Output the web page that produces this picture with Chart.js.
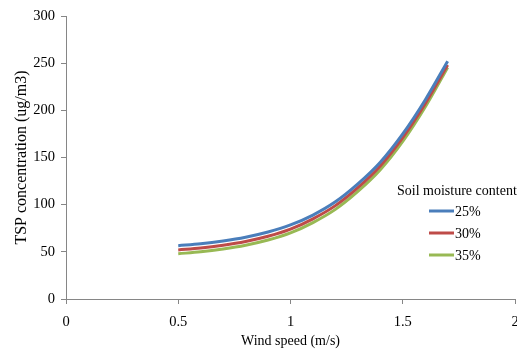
<!DOCTYPE html>
<html>
<head>
<meta charset="utf-8">
<script src="https://cdn.jsdelivr.net/npm/chart.js@4/dist/chart.umd.min.js"></script>
<style>
html,body{margin:0;padding:0;background:#fff;}
#wrap{width:517px;height:350px;position:relative;}
</style>
</head>
<body>
<div id="wrap"><canvas id="c" width="517" height="350"></canvas></div>
<script>
const windSpeed = [0.5, 0.6, 0.7, 0.8, 0.9, 1.0, 1.1, 1.2, 1.3, 1.4, 1.5, 1.6, 1.7];
const tsp25 = [56.5, 58.5, 61.5, 65.5, 71, 78.5, 89, 103, 122, 145, 175, 211, 252];
const tsp30 = [52, 54, 57, 61, 66.5, 74, 85, 99, 118, 141, 171, 207, 248];
const tsp35 = [48, 50, 53, 57, 62.5, 70, 81, 95, 114, 137, 167, 203.5, 245.5];
const seriesLabels = ['25%', '30%', '35%'];
const legendTitle = 'Soil moisture content';
const xTitle = 'Wind speed (m/s)';
const yTitle = 'TSP concentration (ug/m3)';

const colors = ['#4A7EBB', '#BE4B48', '#98B954'];
const FONT = "'Liberation Serif', 'Times New Roman', serif";

function pts(ys){ return windSpeed.map((x,i)=>({x:x,y:ys[i]})); }

const legendPlugin = {
  id: 'customLegend',
  afterDatasetsDraw(chart){
    const ctx = chart.ctx;
    ctx.save();
    ctx.font = '14px ' + FONT;
    ctx.fillStyle = '#000';
    ctx.textBaseline = 'middle';
    ctx.textAlign = 'left';
    ctx.fillText(legendTitle, 397, 191);
    chart.data.datasets.forEach((ds, i) => {
      const y = 211 + i * 22;
      ctx.strokeStyle = ds.borderColor;
      ctx.lineWidth = 3;
      ctx.beginPath();
      ctx.moveTo(429, y);
      ctx.lineTo(454, y);
      ctx.stroke();
      ctx.fillText(ds.label, 455, y + 1);
    });
    ctx.restore();
  }
};

new Chart(document.getElementById('c'), {
  type: 'line',
  data: {
    datasets: [
      {label: seriesLabels[0], data: pts(tsp25), borderColor: colors[0]},
      {label: seriesLabels[1], data: pts(tsp30), borderColor: colors[1]},
      {label: seriesLabels[2], data: pts(tsp35), borderColor: colors[2]}
    ].map(d => Object.assign(d, {borderWidth: 3, pointRadius: 0, fill: false, cubicInterpolationMode: 'monotone'}))
  },
  options: {
    responsive: false,
    animation: false,
    layout: {padding: {top: 16, right: 2, left: 0, bottom: 0}},
    plugins: {legend: {display: false}, tooltip: {enabled: false}},
    scales: {
      x: {
        type: 'linear', min: 0, max: 2,
        ticks: {stepSize: 0.5, color: '#000', font: {family: FONT, size: 14.5}, padding: 9, maxRotation: 0,
          callback: v => String(v)},
        grid: {display: true, drawOnChartArea: false, tickLength: 5, color: '#868686'},
        border: {color: '#868686', width: 1},
        title: {display: true, text: xTitle, color: '#000', font: {family: FONT, size: 14}, padding: {top: 0, bottom: 0}},
        afterFit(s){ s.height = 51; s.paddingLeft = 0; s.paddingRight = 0; }
      },
      y: {
        min: 0, max: 300,
        ticks: {stepSize: 50, color: '#000', font: {family: FONT, size: 14.5}, padding: 6},
        grid: {display: true, drawOnChartArea: false, tickLength: 5, color: '#868686'},
        border: {color: '#868686', width: 1},
        title: {display: true, text: yTitle, color: '#000', font: {family: FONT, size: 16}, padding: {top: 12, bottom: 0}},
        afterFit(s){ s.width = 66; s.paddingTop = 0; s.paddingBottom = 0; }
      }
    }
  },
  plugins: [legendPlugin]
});
</script>
</body>
</html>
